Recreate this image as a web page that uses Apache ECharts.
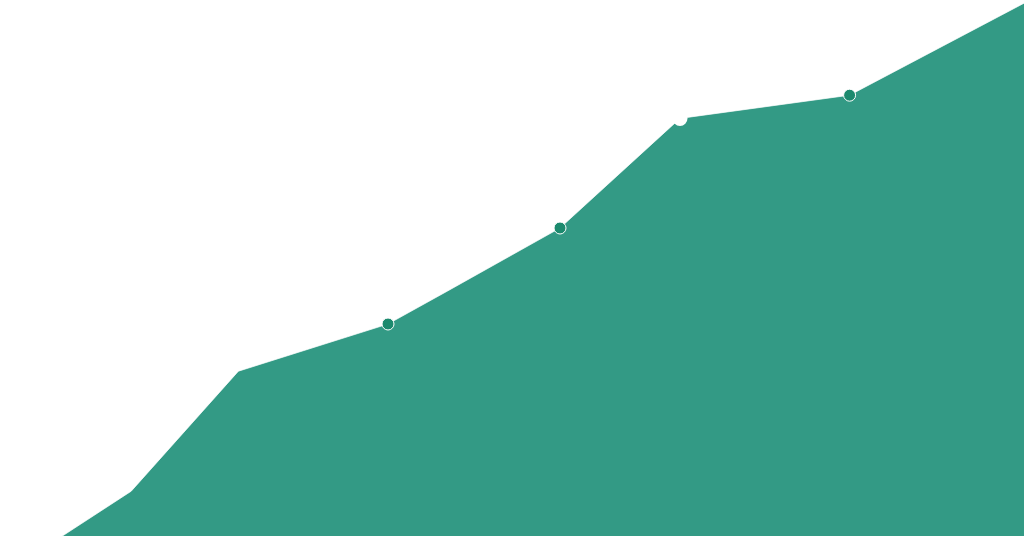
<!DOCTYPE html>
<html>
<head>
<meta charset="utf-8">
<script src="https://cdn.jsdelivr.net/npm/echarts@6/dist/echarts.min.js"></script>
<style>
  html, body { margin: 0; padding: 0; background: #fff; }
  #main { width: 1024px; height: 536px; }
</style>
</head>
<body>
<div id="main"></div>
<script>
// values
var xValues = [7.8, 16.4, 29.8, 48.5, 55.9, 70, 85, 106.2, 128];
var yValues = [0, 11.2, 41.2, 53, 61.2, 77, 104.4, 110.2, 133.2];
// which points carry a marker: 'dark', 'white' or none
var markers = [null, null, null, 'dark', null, 'dark', 'white', 'dark', null];

var data = xValues.map(function (x, i) {
  var item = { value: [x, yValues[i]] };
  if (markers[i] === 'dark') {
    item.symbol = 'circle';
    item.symbolSize = 12;
    item.itemStyle = { color: '#1c8a6e', borderColor: '#ffffff', borderWidth: 1 };
  } else if (markers[i] === 'white') {
    item.symbol = 'circle';
    item.symbolSize = 15;
    item.itemStyle = { color: '#ffffff', borderWidth: 0 };
  } else {
    item.symbol = 'none';
  }
  return item;
});

var myChart = echarts.init(document.getElementById('main'));
myChart.setOption({
  animation: false,
  grid: { left: 0, right: 0, top: 0, bottom: 0 },
  xAxis: { type: 'value', min: 0, max: 128, show: false },
  yAxis: { type: 'value', min: 0, max: 134, show: false },
  series: [{
    type: 'line',
    data: data,
    showAllSymbol: true,
    lineStyle: { color: 'rgba(255,255,255,0.7)', width: 1 },
    areaStyle: { color: '#339a85', opacity: 1 }
  }]
});
</script>
</body>
</html>
